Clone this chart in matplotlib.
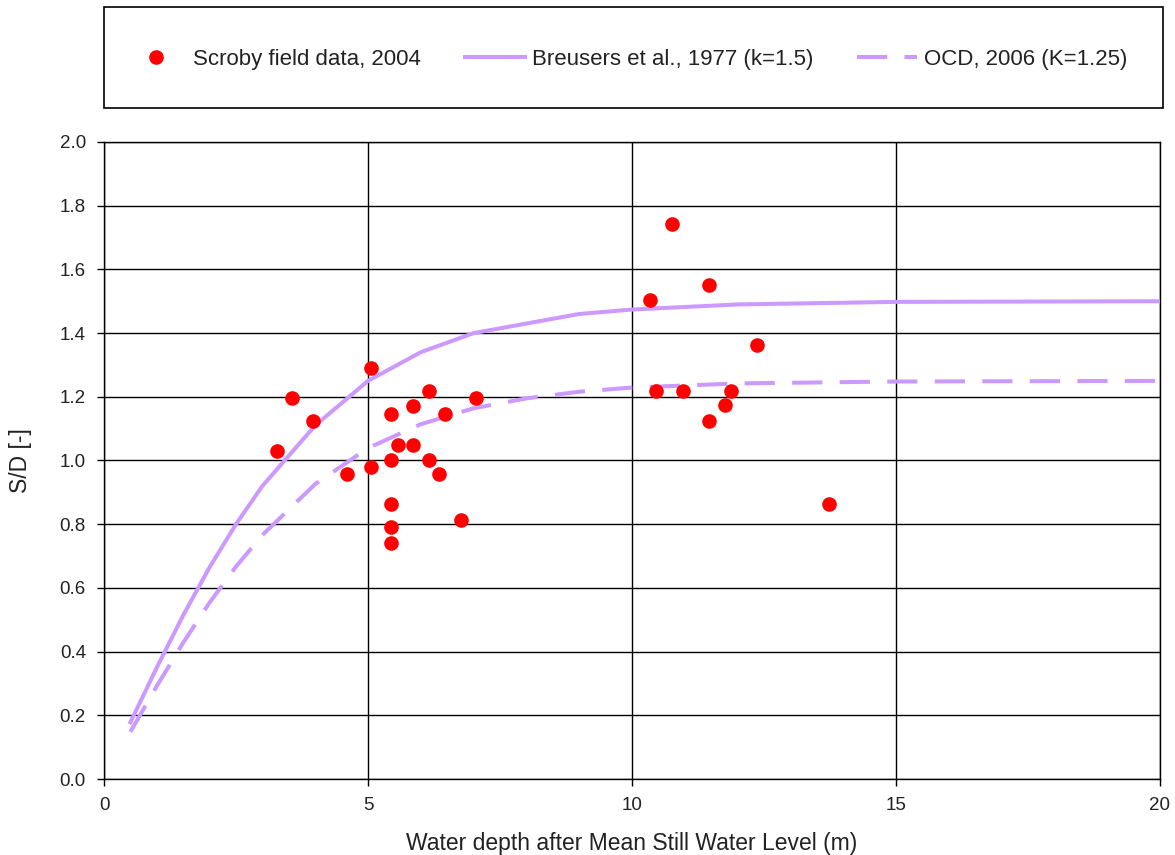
import matplotlib
matplotlib.use("Agg")
import matplotlib.pyplot as plt
from matplotlib.patches import Rectangle

plt.rcParams['font.family'] = ['Liberation Sans', 'DejaVu Sans']

# Field data
field_x = [3.28, 3.56, 3.96, 4.60, 5.06, 5.06, 5.44, 5.44, 5.44, 5.44, 5.44,
           5.57, 5.85, 5.85, 6.16, 6.16, 6.34, 6.46, 6.76, 7.05,
           10.34, 10.45, 10.76, 10.97, 11.46, 11.46, 11.76, 11.87, 12.37, 13.73]
field_y = [1.03, 1.196, 1.124, 0.958, 1.29, 0.98, 1.146, 1.00, 0.863, 0.79, 0.74,
           1.05, 1.17, 1.05, 1.218, 1.00, 0.958, 1.146, 0.813, 1.196,
           1.504, 1.218, 1.743, 1.218, 1.551, 1.124, 1.174, 1.218, 1.363, 0.863]

# Curves
curve_x = [0.5, 1, 1.5, 2, 2.5, 3, 4, 5, 6, 7, 8, 9, 10, 12, 15, 20]
breusers_y = [0.178, 0.350, 0.514, 0.665, 0.80, 0.92, 1.11, 1.25, 1.34, 1.40,
              1.43, 1.46, 1.474, 1.49, 1.498, 1.50]
ocd_y = [0.148, 0.292, 0.428, 0.554, 0.667, 0.766, 0.926, 1.039, 1.114, 1.164,
         1.195, 1.216, 1.229, 1.242, 1.248, 1.25]

x_ticks = [0, 5, 10, 15, 20]
y_ticks = [0.0, 0.2, 0.4, 0.6, 0.8, 1.0, 1.2, 1.4, 1.6, 1.8, 2.0]

W, H = 1175, 855
fig = plt.figure(figsize=(W / 100, H / 100), dpi=100)
ax = fig.add_axes([104 / W, 1 - 779 / H, (1160 - 104) / W, (779 - 142) / H])

lav = '#CC99FF'
ax.plot(field_x, field_y, 'o', color='#FF0000', markersize=9.5, linestyle='none',
        label='Scroby field data, 2004', zorder=4)
ax.plot(curve_x, breusers_y, '-', color=lav, linewidth=2.9,
        label='Breusers et al., 1977 (k=1.5)', zorder=3)
ax.plot(curve_x, ocd_y, color=lav, linewidth=2.9, dashes=(7.5, 4.3),
        label='OCD, 2006 (K=1.25)', zorder=3)

ax.set_xlim(0, 20)
ax.set_ylim(0, 2.0)
ax.set_xticks(x_ticks)
ax.set_xticklabels([str(v) for v in x_ticks])
ax.set_yticks(y_ticks)
ax.set_yticklabels([f'{v:.1f}' for v in y_ticks])
ax.grid(True, color='black', linewidth=1.0)
ax.set_axisbelow(True)
for s in ax.spines.values():
    s.set_color('black')
    s.set_linewidth(1.0)
ax.tick_params(direction='out', length=5, width=1, labelsize=13.5, colors='black',
               labelcolor='#222222', pad=8)
ax.set_xlabel('Water depth after Mean Still Water Level (m)', fontsize=16.5,
              color='#222222', labelpad=13)
ax.set_ylabel('S/D [-]', fontsize=16.5, color='#222222', labelpad=20)

# Legend box
fig.patches.append(Rectangle((104 / W, 1 - 108 / H), (1163 - 104) / W, (108 - 7) / H,
                             transform=fig.transFigure, facecolor='white',
                             edgecolor='black', linewidth=1.2))
leg = fig.legend(loc='center left', bbox_to_anchor=(106 / W, 1 - 59 / H),
                 ncol=3, frameon=False, fontsize=16, handlelength=2.7,
                 columnspacing=2.0, handletextpad=0.3, labelcolor='#222222')

fig.savefig('out.png', dpi=100, facecolor='white')
